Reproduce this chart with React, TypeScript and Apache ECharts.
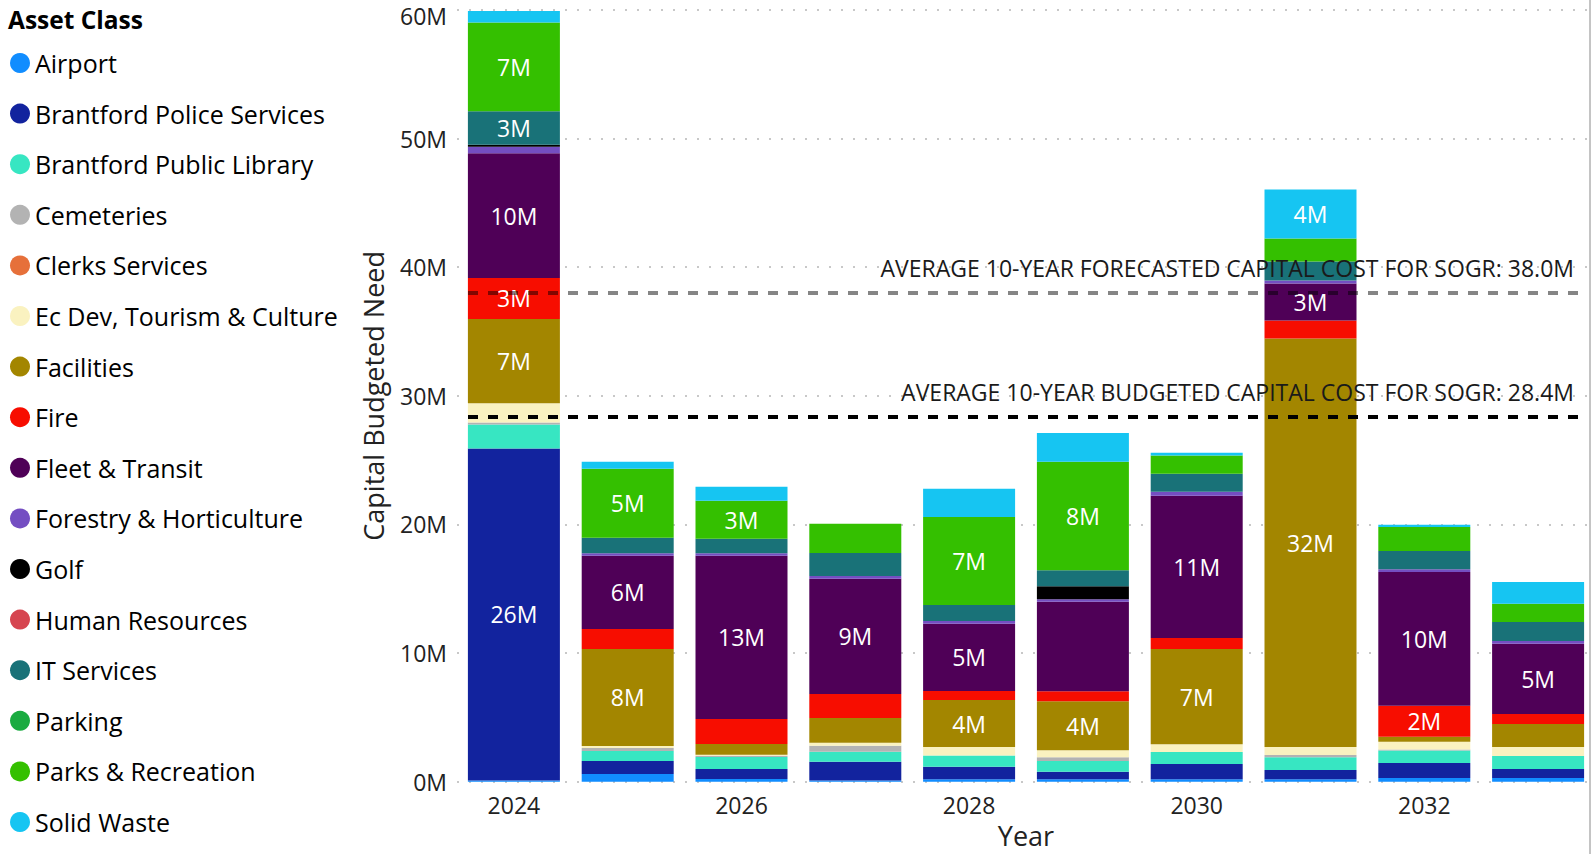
import React, { useEffect, useRef } from "react";
import * as echarts from "echarts";

const years = ["2024", "2025", "2026", "2027", "2028", "2029", "2030", "2031", "2032", "2033"];

const assetClasses = [
  "Airport",
  "Brantford Police Services",
  "Brantford Public Library",
  "Cemeteries",
  "Clerks Services",
  "Ec Dev, Tourism & Culture",
  "Facilities",
  "Fire",
  "Fleet & Transit",
  "Forestry & Horticulture",
  "Golf",
  "Human Resources",
  "IT Services",
  "Parking",
  "Parks & Recreation",
  "Solid Waste",
];

const classColors = [
  "#118DFF",
  "#12239E",
  "#37E6C2",
  "#B3B3B3",
  "#E6703A",
  "#FAF2C0",
  "#A38600",
  "#F70D00",
  "#4F0057",
  "#744EC2",
  "#000000",
  "#D64550",
  "#197278",
  "#1AAB40",
  "#34C000",
  "#16C5F2",
];

// values in millions, per asset class, 2024..2033
const airport = [0.1, 0.6, 0.21, 0.1, 0.2, 0.2, 0.2, 0.2, 0.29, 0.29];
const police = [25.8, 1.01, 0.78, 1.45, 0.96, 0.57, 1.17, 0.7, 1.17, 0.7];
const library = [1.87, 0.78, 0.93, 0.78, 0.88, 0.83, 0.93, 1.01, 0.96, 1.01];
const cemeteries = [0.15, 0.23, 0.1, 0.47, 0, 0.31, 0, 0.16, 0.08, 0];
const clerks = [0, 0, 0, 0, 0, 0, 0, 0, 0, 0];
const ecDev = [1.5, 0.16, 0.08, 0.23, 0.65, 0.54, 0.62, 0.62, 0.6, 0.7];
const facilities = [6.55, 7.54, 0.83, 1.92, 3.66, 3.81, 7.4, 31.76, 0.39, 1.79];
const fire = [3.2, 1.56, 1.95, 1.87, 0.7, 0.78, 0.86, 1.4, 2.41, 0.78];
const fleet = [9.7, 5.68, 12.68, 8.95, 5.24, 6.95, 11.05, 2.88, 10.4, 5.45];
const forestry = [0.5, 0.21, 0.21, 0.23, 0.2, 0.2, 0.31, 0.23, 0.21, 0.21];
const golf = [0.15, 0, 0, 0, 0, 1.01, 0, 0, 0, 0];
const humanResources = [0, 0, 0, 0, 0, 0, 0, 0, 0, 0];
const itServices = [2.6, 1.19, 1.12, 1.79, 1.25, 1.25, 1.4, 1.48, 1.43, 1.48];
const parking = [0, 0, 0, 0, 0, 0, 0, 0, 0, 0];
const parks = [6.9, 5.37, 2.96, 2.26, 6.85, 8.43, 1.43, 1.79, 1.87, 1.43];
const solidWaste = [0.9, 0.55, 1.09, 0, 2.18, 2.23, 0.2, 3.81, 0.16, 1.69];

const seriesValues = [
  airport, police, library, cemeteries, clerks, ecDev, facilities, fire,
  fleet, forestry, golf, humanResources, itServices, parking, parks, solidWaste,
];

const yTicks = [0, 10, 20, 30, 40, 50, 60];

const avgForecast = 38.0;
const avgBudgeted = 28.4;
const avgForecastLabel = "AVERAGE 10-YEAR FORECASTED CAPITAL COST FOR SOGR: 38.0M";
const avgBudgetedLabel = "AVERAGE 10-YEAR BUDGETED CAPITAL COST FOR SOGR: 28.4M";

// labels Power BI left out
const hiddenLabels = [["2029", "Fleet & Transit"]];
const labelMin = 2.4;

const FONT = "'Open Sans', sans-serif";

export default function App() {
  const ref = useRef<HTMLDivElement>(null);

  useEffect(() => {
    if (!ref.current) return;
    const chart = echarts.init(ref.current, null, { renderer: "svg" });

    const series: any[] = assetClasses.map((name, si) => ({
      name,
      type: "bar",
      stack: "total",
      barWidth: 92,
      itemStyle: { color: classColors[si] },
      label: {
        show: true,
        position: "inside",
        color: "#ffffff",
        fontSize: 23,
        fontFamily: FONT,
        formatter: (p: any) => Math.round(p.value) + "M",
      },
      emphasis: { disabled: true },
      data: seriesValues[si].map((v, i) => {
        const hidden = hiddenLabels.some((h) => h[0] === years[i] && h[1] === name);
        return { value: v, label: { show: v >= labelMin && !hidden } };
      }),
    }));

    const avgLabel = (text: string) => ({
      show: true,
      position: "insideEndTop",
      formatter: text,
      color: "#1a1a1a",
      fontSize: 23,
      fontFamily: FONT,
      distance: [6, 13],
    });

    series[series.length - 1].markLine = {
      silent: true,
      symbol: ["none", "none"],
      animation: false,
      data: [
        [
          {
            coord: [0, avgForecast],
            x: 468,
            lineStyle: { color: "rgba(0,0,0,0.48)", width: 4, type: [10, 10] },
            label: avgLabel(avgForecastLabel),
          },
          { coord: [9, avgForecast], x: 1580 },
        ],
        [
          {
            coord: [0, avgBudgeted],
            x: 468,
            lineStyle: { color: "#000000", width: 4, type: [10, 10] },
            label: avgLabel(avgBudgetedLabel),
          },
          { coord: [9, avgBudgeted], x: 1580 },
        ],
      ],
    };

    const yMax = yTicks[yTicks.length - 1];

    chart.setOption({
      animation: false,
      textStyle: { fontFamily: FONT },
      title: {
        text: "Asset Class",
        left: 8,
        top: 7,
        padding: 0,
        textStyle: { fontSize: 24.5, fontWeight: "bold", color: "#000", fontFamily: FONT },
      },
      legend: {
        orient: "vertical",
        left: 10,
        top: 48,
        padding: 0,
        icon: "circle",
        itemWidth: 20,
        itemHeight: 20,
        itemGap: 20.6,
        selectedMode: false,
        data: assetClasses,
        textStyle: { fontSize: 25, color: "#000", lineHeight: 30, fontFamily: FONT },
      },
      grid: {
        left: 457,
        top: 10,
        width: 1138,
        height: 771.7,
        containLabel: false,
        outerBoundsMode: "none",
      },
      xAxis: {
        type: "category",
        data: years,
        name: "Year",
        nameLocation: "middle",
        nameGap: 42,
        nameTextStyle: { fontSize: 27, lineHeight: 22, color: "#222", fontFamily: FONT },
        axisLine: { show: false },
        axisTick: { show: false },
        axisLabel: { interval: 1, fontSize: 23, color: "#222", margin: 12, fontFamily: FONT },
      },
      yAxis: {
        type: "value",
        min: yTicks[0],
        max: yMax,
        interval: 10,
        name: "Capital Budgeted Need",
        nameLocation: "middle",
        nameGap: 70,
        nameTextStyle: { fontSize: 27, color: "#222", fontFamily: FONT },
        axisLabel: {
          fontSize: 23,
          color: "#222",
          margin: 10,
          fontFamily: FONT,
          formatter: (v: number) => (v === yMax ? "{top|" + v + "M}" : v + "M"),
          rich: {
            top: { fontSize: 23, color: "#222", fontFamily: FONT, padding: [12, 0, 0, 0] },
          },
        },
        splitLine: { show: true, lineStyle: { color: "#c8c8c8", width: 2, type: [2, 10] } },
      },
      graphic: [
        {
          type: "line",
          shape: { x1: 1590, y1: 0, x2: 1590, y2: 854 },
          style: { stroke: "#c4c4c4", lineWidth: 2 },
          silent: true,
        },
      ],
      series,
    });

    return () => chart.dispose();
  }, []);

  return (
    <div
      ref={ref}
      style={{ position: "fixed", left: 0, top: 0, width: 1594, height: 854, background: "#fff" }}
    />
  );
}
